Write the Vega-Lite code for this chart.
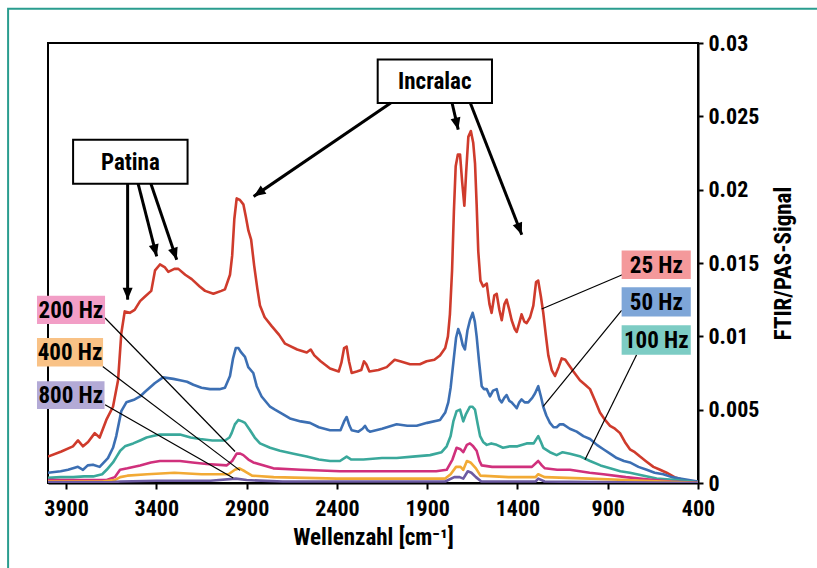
{
  "$schema": "https://vega.github.io/schema/vega-lite/v6.json",
  "width": 650,
  "height": 440,
  "autosize": "none",
  "padding": {"left": 48, "top": 43, "right": 119, "bottom": 85},
  "background": "white",
  "config": {
    "font": "Roboto Condensed, Liberation Sans Narrow, Arial Narrow, Roboto, sans-serif",
    "view": {"stroke": "black", "strokeWidth": 2},
    "axis": {
      "grid": false,
      "domainColor": "black",
      "domainWidth": 2,
      "tickColor": "black",
      "tickWidth": 2,
      "labelColor": "black",
      "labelFontSize": 22,
      "labelFontWeight": "bold",
      "labelFlush": false,
      "labelOverlap": false,
      "titleColor": "black",
      "titleFontSize": 23,
      "titleFontWeight": "bold"
    }
  },
  "datasets": {
    "spectra": [
      {"s":"25 Hz","x":4000,"y":0.0018},{"s":"25 Hz","x":3926,"y":0.00215},{"s":"25 Hz","x":3862,"y":0.0025},{"s":"25 Hz","x":3834,"y":0.0029},{"s":"25 Hz","x":3806,"y":0.0025},{"s":"25 Hz","x":3778,"y":0.0028},{"s":"25 Hz","x":3741,"y":0.0034},{"s":"25 Hz","x":3714,"y":0.0031},{"s":"25 Hz","x":3677,"y":0.0043},{"s":"25 Hz","x":3640,"y":0.0052},{"s":"25 Hz","x":3612,"y":0.007},{"s":"25 Hz","x":3594,"y":0.0102},{"s":"25 Hz","x":3575,"y":0.0117},{"s":"25 Hz","x":3547,"y":0.0116},{"s":"25 Hz","x":3520,"y":0.0118},{"s":"25 Hz","x":3490,"y":0.0124},{"s":"25 Hz","x":3464,"y":0.0127},{"s":"25 Hz","x":3428,"y":0.0131},{"s":"25 Hz","x":3407,"y":0.0145},{"s":"25 Hz","x":3380,"y":0.0149},{"s":"25 Hz","x":3352,"y":0.0147},{"s":"25 Hz","x":3334,"y":0.0144},{"s":"25 Hz","x":3300,"y":0.0146},{"s":"25 Hz","x":3278,"y":0.0146},{"s":"25 Hz","x":3240,"y":0.0142},{"s":"25 Hz","x":3204,"y":0.0139},{"s":"25 Hz","x":3160,"y":0.0134},{"s":"25 Hz","x":3130,"y":0.0131},{"s":"25 Hz","x":3084,"y":0.0129},{"s":"25 Hz","x":3040,"y":0.0131},{"s":"25 Hz","x":3020,"y":0.0132},{"s":"25 Hz","x":2992,"y":0.0142},{"s":"25 Hz","x":2980,"y":0.0155},{"s":"25 Hz","x":2968,"y":0.018},{"s":"25 Hz","x":2955,"y":0.0194},{"s":"25 Hz","x":2937,"y":0.0193},{"s":"25 Hz","x":2918,"y":0.019},{"s":"25 Hz","x":2905,"y":0.0182},{"s":"25 Hz","x":2890,"y":0.0172},{"s":"25 Hz","x":2875,"y":0.0166},{"s":"25 Hz","x":2858,"y":0.0148},{"s":"25 Hz","x":2840,"y":0.0132},{"s":"25 Hz","x":2826,"y":0.0121},{"s":"25 Hz","x":2800,"y":0.0113},{"s":"25 Hz","x":2761,"y":0.0107},{"s":"25 Hz","x":2720,"y":0.0101},{"s":"25 Hz","x":2687,"y":0.0095},{"s":"25 Hz","x":2620,"y":0.0091},{"s":"25 Hz","x":2567,"y":0.0089},{"s":"25 Hz","x":2545,"y":0.0091},{"s":"25 Hz","x":2525,"y":0.0087},{"s":"25 Hz","x":2490,"y":0.0083},{"s":"25 Hz","x":2438,"y":0.0078},{"s":"25 Hz","x":2390,"y":0.0076},{"s":"25 Hz","x":2375,"y":0.0082},{"s":"25 Hz","x":2360,"y":0.0092},{"s":"25 Hz","x":2346,"y":0.0093},{"s":"25 Hz","x":2333,"y":0.0083},{"s":"25 Hz","x":2318,"y":0.0075},{"s":"25 Hz","x":2290,"y":0.0076},{"s":"25 Hz","x":2265,"y":0.0077},{"s":"25 Hz","x":2250,"y":0.0083},{"s":"25 Hz","x":2237,"y":0.0081},{"s":"25 Hz","x":2220,"y":0.0076},{"s":"25 Hz","x":2170,"y":0.0077},{"s":"25 Hz","x":2124,"y":0.0079},{"s":"25 Hz","x":2080,"y":0.0084},{"s":"25 Hz","x":2050,"y":0.0083},{"s":"25 Hz","x":1995,"y":0.0081},{"s":"25 Hz","x":1940,"y":0.0081},{"s":"25 Hz","x":1903,"y":0.0083},{"s":"25 Hz","x":1860,"y":0.0084},{"s":"25 Hz","x":1829,"y":0.0087},{"s":"25 Hz","x":1800,"y":0.0092},{"s":"25 Hz","x":1785,"y":0.01},{"s":"25 Hz","x":1774,"y":0.0115},{"s":"25 Hz","x":1762,"y":0.0145},{"s":"25 Hz","x":1752,"y":0.0185},{"s":"25 Hz","x":1742,"y":0.0216},{"s":"25 Hz","x":1730,"y":0.0224},{"s":"25 Hz","x":1718,"y":0.0224},{"s":"25 Hz","x":1706,"y":0.0205},{"s":"25 Hz","x":1694,"y":0.0189},{"s":"25 Hz","x":1684,"y":0.0212},{"s":"25 Hz","x":1672,"y":0.0236},{"s":"25 Hz","x":1658,"y":0.024},{"s":"25 Hz","x":1645,"y":0.0232},{"s":"25 Hz","x":1635,"y":0.0218},{"s":"25 Hz","x":1626,"y":0.019},{"s":"25 Hz","x":1617,"y":0.0158},{"s":"25 Hz","x":1605,"y":0.0138},{"s":"25 Hz","x":1590,"y":0.0134},{"s":"25 Hz","x":1570,"y":0.0136},{"s":"25 Hz","x":1555,"y":0.0122},{"s":"25 Hz","x":1543,"y":0.0116},{"s":"25 Hz","x":1528,"y":0.0128},{"s":"25 Hz","x":1515,"y":0.0129},{"s":"25 Hz","x":1500,"y":0.0118},{"s":"25 Hz","x":1487,"y":0.0111},{"s":"25 Hz","x":1472,"y":0.0122},{"s":"25 Hz","x":1460,"y":0.0125},{"s":"25 Hz","x":1445,"y":0.0118},{"s":"25 Hz","x":1432,"y":0.0111},{"s":"25 Hz","x":1415,"y":0.0105},{"s":"25 Hz","x":1404,"y":0.0103},{"s":"25 Hz","x":1390,"y":0.0109},{"s":"25 Hz","x":1377,"y":0.0115},{"s":"25 Hz","x":1362,"y":0.011},{"s":"25 Hz","x":1349,"y":0.0109},{"s":"25 Hz","x":1330,"y":0.0113},{"s":"25 Hz","x":1312,"y":0.0121},{"s":"25 Hz","x":1297,"y":0.0137},{"s":"25 Hz","x":1285,"y":0.0138},{"s":"25 Hz","x":1270,"y":0.0127},{"s":"25 Hz","x":1257,"y":0.0116},{"s":"25 Hz","x":1243,"y":0.0101},{"s":"25 Hz","x":1229,"y":0.0087},{"s":"25 Hz","x":1210,"y":0.0077},{"s":"25 Hz","x":1192,"y":0.0073},{"s":"25 Hz","x":1172,"y":0.0079},{"s":"25 Hz","x":1155,"y":0.0085},{"s":"25 Hz","x":1135,"y":0.0084},{"s":"25 Hz","x":1118,"y":0.0081},{"s":"25 Hz","x":1090,"y":0.0076},{"s":"25 Hz","x":1054,"y":0.007},{"s":"25 Hz","x":1025,"y":0.0067},{"s":"25 Hz","x":998,"y":0.0064},{"s":"25 Hz","x":970,"y":0.0056},{"s":"25 Hz","x":943,"y":0.0048},{"s":"25 Hz","x":915,"y":0.0043},{"s":"25 Hz","x":887,"y":0.0039},{"s":"25 Hz","x":860,"y":0.0037},{"s":"25 Hz","x":832,"y":0.0034},{"s":"25 Hz","x":805,"y":0.0028},{"s":"25 Hz","x":777,"y":0.0023},{"s":"25 Hz","x":750,"y":0.0021},{"s":"25 Hz","x":721,"y":0.0018},{"s":"25 Hz","x":690,"y":0.0015},{"s":"25 Hz","x":647,"y":0.0011},{"s":"25 Hz","x":610,"y":0.0009},{"s":"25 Hz","x":574,"y":0.0007},{"s":"25 Hz","x":530,"y":0.0004},{"s":"25 Hz","x":481,"y":0.0002},{"s":"25 Hz","x":440,"y":0.0001},{"s":"25 Hz","x":400,"y":0.0001},

      {"s":"50 Hz","x":4000,"y":0.0007},{"s":"50 Hz","x":3930,"y":0.0008},{"s":"50 Hz","x":3889,"y":0.0009},{"s":"50 Hz","x":3834,"y":0.0011},{"s":"50 Hz","x":3806,"y":0.0009},{"s":"50 Hz","x":3780,"y":0.0012},{"s":"50 Hz","x":3751,"y":0.00125},{"s":"50 Hz","x":3714,"y":0.0011},{"s":"50 Hz","x":3668,"y":0.0017},{"s":"50 Hz","x":3640,"y":0.0024},{"s":"50 Hz","x":3622,"y":0.0032},{"s":"50 Hz","x":3594,"y":0.0049},{"s":"50 Hz","x":3566,"y":0.0055},{"s":"50 Hz","x":3520,"y":0.0057},{"s":"50 Hz","x":3490,"y":0.0059},{"s":"50 Hz","x":3464,"y":0.0062},{"s":"50 Hz","x":3409,"y":0.0068},{"s":"50 Hz","x":3363,"y":0.0072},{"s":"50 Hz","x":3306,"y":0.0071},{"s":"50 Hz","x":3269,"y":0.007},{"s":"50 Hz","x":3230,"y":0.0069},{"s":"50 Hz","x":3195,"y":0.0067},{"s":"50 Hz","x":3150,"y":0.0065},{"s":"50 Hz","x":3103,"y":0.0064},{"s":"50 Hz","x":3050,"y":0.0064},{"s":"50 Hz","x":3020,"y":0.0065},{"s":"50 Hz","x":2992,"y":0.0073},{"s":"50 Hz","x":2975,"y":0.0085},{"s":"50 Hz","x":2960,"y":0.0092},{"s":"50 Hz","x":2945,"y":0.0092},{"s":"50 Hz","x":2930,"y":0.0089},{"s":"50 Hz","x":2909,"y":0.0086},{"s":"50 Hz","x":2891,"y":0.0079},{"s":"50 Hz","x":2863,"y":0.0075},{"s":"50 Hz","x":2844,"y":0.0066},{"s":"50 Hz","x":2817,"y":0.0059},{"s":"50 Hz","x":2770,"y":0.0052},{"s":"50 Hz","x":2743,"y":0.005},{"s":"50 Hz","x":2700,"y":0.0047},{"s":"50 Hz","x":2660,"y":0.0044},{"s":"50 Hz","x":2600,"y":0.0042},{"s":"50 Hz","x":2549,"y":0.0041},{"s":"50 Hz","x":2500,"y":0.0038},{"s":"50 Hz","x":2438,"y":0.0036},{"s":"50 Hz","x":2380,"y":0.0036},{"s":"50 Hz","x":2360,"y":0.0042},{"s":"50 Hz","x":2346,"y":0.0045},{"s":"50 Hz","x":2330,"y":0.0039},{"s":"50 Hz","x":2318,"y":0.0036},{"s":"50 Hz","x":2281,"y":0.0035},{"s":"50 Hz","x":2258,"y":0.0037},{"s":"50 Hz","x":2244,"y":0.0039},{"s":"50 Hz","x":2230,"y":0.0036},{"s":"50 Hz","x":2217,"y":0.0035},{"s":"50 Hz","x":2150,"y":0.0037},{"s":"50 Hz","x":2069,"y":0.004},{"s":"50 Hz","x":2010,"y":0.0039},{"s":"50 Hz","x":1958,"y":0.0039},{"s":"50 Hz","x":1900,"y":0.0041},{"s":"50 Hz","x":1829,"y":0.0043},{"s":"50 Hz","x":1800,"y":0.0048},{"s":"50 Hz","x":1783,"y":0.0055},{"s":"50 Hz","x":1770,"y":0.0065},{"s":"50 Hz","x":1755,"y":0.0082},{"s":"50 Hz","x":1740,"y":0.0099},{"s":"50 Hz","x":1728,"y":0.0105},{"s":"50 Hz","x":1716,"y":0.0101},{"s":"50 Hz","x":1703,"y":0.0094},{"s":"50 Hz","x":1691,"y":0.0091},{"s":"50 Hz","x":1677,"y":0.0104},{"s":"50 Hz","x":1663,"y":0.0111},{"s":"50 Hz","x":1648,"y":0.0116},{"s":"50 Hz","x":1636,"y":0.011},{"s":"50 Hz","x":1626,"y":0.01},{"s":"50 Hz","x":1612,"y":0.0082},{"s":"50 Hz","x":1598,"y":0.0066},{"s":"50 Hz","x":1585,"y":0.0064},{"s":"50 Hz","x":1570,"y":0.0064},{"s":"50 Hz","x":1552,"y":0.0059},{"s":"50 Hz","x":1535,"y":0.0063},{"s":"50 Hz","x":1515,"y":0.0064},{"s":"50 Hz","x":1500,"y":0.0057},{"s":"50 Hz","x":1487,"y":0.0055},{"s":"50 Hz","x":1473,"y":0.0058},{"s":"50 Hz","x":1460,"y":0.006},{"s":"50 Hz","x":1445,"y":0.0056},{"s":"50 Hz","x":1432,"y":0.0055},{"s":"50 Hz","x":1418,"y":0.0053},{"s":"50 Hz","x":1404,"y":0.0051},{"s":"50 Hz","x":1390,"y":0.0055},{"s":"50 Hz","x":1377,"y":0.0057},{"s":"50 Hz","x":1360,"y":0.0055},{"s":"50 Hz","x":1340,"y":0.0055},{"s":"50 Hz","x":1318,"y":0.0058},{"s":"50 Hz","x":1303,"y":0.0061},{"s":"50 Hz","x":1285,"y":0.0066},{"s":"50 Hz","x":1270,"y":0.0059},{"s":"50 Hz","x":1257,"y":0.0052},{"s":"50 Hz","x":1240,"y":0.0046},{"s":"50 Hz","x":1220,"y":0.0041},{"s":"50 Hz","x":1200,"y":0.0038},{"s":"50 Hz","x":1183,"y":0.0038},{"s":"50 Hz","x":1165,"y":0.004},{"s":"50 Hz","x":1146,"y":0.004},{"s":"50 Hz","x":1110,"y":0.0037},{"s":"50 Hz","x":1072,"y":0.0035},{"s":"50 Hz","x":1035,"y":0.0032},{"s":"50 Hz","x":998,"y":0.003},{"s":"50 Hz","x":960,"y":0.0026},{"s":"50 Hz","x":924,"y":0.0023},{"s":"50 Hz","x":887,"y":0.002},{"s":"50 Hz","x":850,"y":0.0017},{"s":"50 Hz","x":810,"y":0.0015},{"s":"50 Hz","x":777,"y":0.0014},{"s":"50 Hz","x":730,"y":0.0011},{"s":"50 Hz","x":684,"y":0.0009},{"s":"50 Hz","x":640,"y":0.0007},{"s":"50 Hz","x":592,"y":0.0006},{"s":"50 Hz","x":545,"y":0.0004},{"s":"50 Hz","x":500,"y":0.0003},{"s":"50 Hz","x":450,"y":0.0002},{"s":"50 Hz","x":400,"y":0.0001},

      {"s":"100 Hz","x":4000,"y":0.00035},{"s":"100 Hz","x":3930,"y":0.0004},{"s":"100 Hz","x":3860,"y":0.0004},{"s":"100 Hz","x":3800,"y":0.00045},{"s":"100 Hz","x":3750,"y":0.00045},{"s":"100 Hz","x":3700,"y":0.0006},{"s":"100 Hz","x":3675,"y":0.0009},{"s":"100 Hz","x":3640,"y":0.0014},{"s":"100 Hz","x":3620,"y":0.0018},{"s":"100 Hz","x":3600,"y":0.0022},{"s":"100 Hz","x":3574,"y":0.0025},{"s":"100 Hz","x":3528,"y":0.0027},{"s":"100 Hz","x":3490,"y":0.0029},{"s":"100 Hz","x":3454,"y":0.0031},{"s":"100 Hz","x":3420,"y":0.0032},{"s":"100 Hz","x":3380,"y":0.0033},{"s":"100 Hz","x":3320,"y":0.0033},{"s":"100 Hz","x":3269,"y":0.0033},{"s":"100 Hz","x":3210,"y":0.0031},{"s":"100 Hz","x":3158,"y":0.003},{"s":"100 Hz","x":3090,"y":0.0029},{"s":"100 Hz","x":3020,"y":0.0029},{"s":"100 Hz","x":2995,"y":0.0031},{"s":"100 Hz","x":2983,"y":0.0034},{"s":"100 Hz","x":2965,"y":0.004},{"s":"100 Hz","x":2946,"y":0.0043},{"s":"100 Hz","x":2925,"y":0.0042},{"s":"100 Hz","x":2909,"y":0.0041},{"s":"100 Hz","x":2881,"y":0.0036},{"s":"100 Hz","x":2855,"y":0.0031},{"s":"100 Hz","x":2826,"y":0.0027},{"s":"100 Hz","x":2770,"y":0.0024},{"s":"100 Hz","x":2715,"y":0.0022},{"s":"100 Hz","x":2640,"y":0.002},{"s":"100 Hz","x":2567,"y":0.0018},{"s":"100 Hz","x":2500,"y":0.0016},{"s":"100 Hz","x":2438,"y":0.0015},{"s":"100 Hz","x":2383,"y":0.0015},{"s":"100 Hz","x":2346,"y":0.0018},{"s":"100 Hz","x":2320,"y":0.0016},{"s":"100 Hz","x":2253,"y":0.0016},{"s":"100 Hz","x":2150,"y":0.0017},{"s":"100 Hz","x":2069,"y":0.0017},{"s":"100 Hz","x":1980,"y":0.0018},{"s":"100 Hz","x":1884,"y":0.0019},{"s":"100 Hz","x":1820,"y":0.0021},{"s":"100 Hz","x":1792,"y":0.0025},{"s":"100 Hz","x":1770,"y":0.0032},{"s":"100 Hz","x":1755,"y":0.0042},{"s":"100 Hz","x":1737,"y":0.0049},{"s":"100 Hz","x":1718,"y":0.005},{"s":"100 Hz","x":1700,"y":0.0042},{"s":"100 Hz","x":1685,"y":0.0047},{"s":"100 Hz","x":1663,"y":0.0052},{"s":"100 Hz","x":1650,"y":0.0052},{"s":"100 Hz","x":1635,"y":0.005},{"s":"100 Hz","x":1620,"y":0.004},{"s":"100 Hz","x":1607,"y":0.0032},{"s":"100 Hz","x":1590,"y":0.0028},{"s":"100 Hz","x":1570,"y":0.0026},{"s":"100 Hz","x":1545,"y":0.0027},{"s":"100 Hz","x":1515,"y":0.0026},{"s":"100 Hz","x":1480,"y":0.0024},{"s":"100 Hz","x":1441,"y":0.0025},{"s":"100 Hz","x":1400,"y":0.0025},{"s":"100 Hz","x":1349,"y":0.0027},{"s":"100 Hz","x":1310,"y":0.0027},{"s":"100 Hz","x":1285,"y":0.0032},{"s":"100 Hz","x":1270,"y":0.0028},{"s":"100 Hz","x":1257,"y":0.0024},{"s":"100 Hz","x":1220,"y":0.0021},{"s":"100 Hz","x":1183,"y":0.0019},{"s":"100 Hz","x":1150,"y":0.0021},{"s":"100 Hz","x":1109,"y":0.002},{"s":"100 Hz","x":1050,"y":0.0018},{"s":"100 Hz","x":998,"y":0.0015},{"s":"100 Hz","x":940,"y":0.0012},{"s":"100 Hz","x":887,"y":0.001},{"s":"100 Hz","x":830,"y":0.0008},{"s":"100 Hz","x":777,"y":0.0007},{"s":"100 Hz","x":700,"y":0.0005},{"s":"100 Hz","x":629,"y":0.0003},{"s":"100 Hz","x":520,"y":0.0002},{"s":"100 Hz","x":400,"y":0.00005},

      {"s":"200 Hz","x":4000,"y":0.0002},{"s":"200 Hz","x":3800,"y":0.0002},{"s":"200 Hz","x":3675,"y":0.0002},{"s":"200 Hz","x":3630,"y":0.0004},{"s":"200 Hz","x":3601,"y":0.0009},{"s":"200 Hz","x":3560,"y":0.001},{"s":"200 Hz","x":3490,"y":0.0012},{"s":"200 Hz","x":3430,"y":0.0014},{"s":"200 Hz","x":3380,"y":0.0015},{"s":"200 Hz","x":3269,"y":0.0015},{"s":"200 Hz","x":3200,"y":0.0014},{"s":"200 Hz","x":3121,"y":0.0013},{"s":"200 Hz","x":3011,"y":0.0012},{"s":"200 Hz","x":2980,"y":0.0015},{"s":"200 Hz","x":2955,"y":0.002},{"s":"200 Hz","x":2935,"y":0.002},{"s":"200 Hz","x":2918,"y":0.0019},{"s":"200 Hz","x":2890,"y":0.0016},{"s":"200 Hz","x":2863,"y":0.0014},{"s":"200 Hz","x":2752,"y":0.001},{"s":"200 Hz","x":2600,"y":0.0009},{"s":"200 Hz","x":2383,"y":0.0008},{"s":"200 Hz","x":2069,"y":0.0008},{"s":"200 Hz","x":1850,"y":0.0008},{"s":"200 Hz","x":1792,"y":0.0009},{"s":"200 Hz","x":1760,"y":0.0016},{"s":"200 Hz","x":1737,"y":0.0024},{"s":"200 Hz","x":1715,"y":0.0023},{"s":"200 Hz","x":1700,"y":0.0021},{"s":"200 Hz","x":1680,"y":0.0026},{"s":"200 Hz","x":1663,"y":0.0027},{"s":"200 Hz","x":1645,"y":0.0025},{"s":"200 Hz","x":1626,"y":0.0022},{"s":"200 Hz","x":1610,"y":0.0015},{"s":"200 Hz","x":1598,"y":0.0012},{"s":"200 Hz","x":1540,"y":0.0011},{"s":"200 Hz","x":1478,"y":0.0011},{"s":"200 Hz","x":1400,"y":0.0011},{"s":"200 Hz","x":1320,"y":0.0011},{"s":"200 Hz","x":1285,"y":0.0015},{"s":"200 Hz","x":1265,"y":0.0012},{"s":"200 Hz","x":1248,"y":0.001},{"s":"200 Hz","x":1180,"y":0.0009},{"s":"200 Hz","x":1109,"y":0.0009},{"s":"200 Hz","x":1000,"y":0.0007},{"s":"200 Hz","x":924,"y":0.0006},{"s":"200 Hz","x":800,"y":0.0004},{"s":"200 Hz","x":684,"y":0.00025},{"s":"200 Hz","x":550,"y":0.0001},{"s":"200 Hz","x":400,"y":0.00002},

      {"s":"400 Hz","x":4000,"y":0.0001},{"s":"400 Hz","x":3700,"y":0.0001},{"s":"400 Hz","x":3630,"y":0.0002},{"s":"400 Hz","x":3600,"y":0.0004},{"s":"400 Hz","x":3560,"y":0.0005},{"s":"400 Hz","x":3450,"y":0.0006},{"s":"400 Hz","x":3300,"y":0.0007},{"s":"400 Hz","x":3150,"y":0.0006},{"s":"400 Hz","x":3000,"y":0.0006},{"s":"400 Hz","x":2965,"y":0.0009},{"s":"400 Hz","x":2940,"y":0.001},{"s":"400 Hz","x":2910,"y":0.0008},{"s":"400 Hz","x":2870,"y":0.0005},{"s":"400 Hz","x":2750,"y":0.0004},{"s":"400 Hz","x":2400,"y":0.0003},{"s":"400 Hz","x":1800,"y":0.0003},{"s":"400 Hz","x":1770,"y":0.0006},{"s":"400 Hz","x":1740,"y":0.0011},{"s":"400 Hz","x":1715,"y":0.0011},{"s":"400 Hz","x":1700,"y":0.0009},{"s":"400 Hz","x":1680,"y":0.0015},{"s":"400 Hz","x":1660,"y":0.0014},{"s":"400 Hz","x":1630,"y":0.001},{"s":"400 Hz","x":1605,"y":0.0005},{"s":"400 Hz","x":1450,"y":0.0004},{"s":"400 Hz","x":1300,"y":0.0004},{"s":"400 Hz","x":1285,"y":0.0006},{"s":"400 Hz","x":1250,"y":0.0004},{"s":"400 Hz","x":1000,"y":0.0003},{"s":"400 Hz","x":800,"y":0.0002},{"s":"400 Hz","x":600,"y":0.0001},{"s":"400 Hz","x":400,"y":0},

      {"s":"800 Hz","x":4000,"y":0.00005},{"s":"800 Hz","x":3650,"y":0.00005},{"s":"800 Hz","x":3600,"y":0.0001},{"s":"800 Hz","x":3400,"y":0.00015},{"s":"800 Hz","x":3100,"y":0.00015},{"s":"800 Hz","x":2960,"y":0.0003},{"s":"800 Hz","x":2900,"y":0.0002},{"s":"800 Hz","x":2700,"y":0.0001},{"s":"800 Hz","x":1800,"y":0.0001},{"s":"800 Hz","x":1750,"y":0.0004},{"s":"800 Hz","x":1720,"y":0.0004},{"s":"800 Hz","x":1700,"y":0.0003},{"s":"800 Hz","x":1675,"y":0.0008},{"s":"800 Hz","x":1655,"y":0.0007},{"s":"800 Hz","x":1630,"y":0.0004},{"s":"800 Hz","x":1600,"y":0.0001},{"s":"800 Hz","x":1300,"y":0.0001},{"s":"800 Hz","x":1285,"y":0.0003},{"s":"800 Hz","x":1250,"y":0.0001},{"s":"800 Hz","x":400,"y":0}
    ],
    "frame": [{"x1": 4221, "x2": -2000, "y1": 0.03234, "y2": -0.02}],
    "boxes": [
      {"t":"Patina","k":"note","x1":3861,"x2":3227,"y1":0.02341,"y2":0.02041,"cx":3544,"cy":0.0219},
      {"t":"Incralac","k":"note","x1":2174,"x2":1541,"y1":0.02887,"y2":0.02591,"cx":1858,"cy":0.02738},
      {"t":"25 Hz","k":"freq","x1":823,"x2":440,"y1":0.01586,"y2":0.01391,"cx":631,"cy":0.01488},
      {"t":"50 Hz","k":"freq","x1":823,"x2":440,"y1":0.01334,"y2":0.01136,"cx":631,"cy":0.01235},
      {"t":"100 Hz","k":"freq","x1":823,"x2":440,"y1":0.01075,"y2":0.00875,"cx":631,"cy":0.00975},
      {"t":"200 Hz","k":"freq","x1":4061,"x2":3684,"y1":0.01277,"y2":0.01084,"cx":3873,"cy":0.0118},
      {"t":"400 Hz","k":"freq","x1":4061,"x2":3695,"y1":0.00989,"y2":0.00795,"cx":3878,"cy":0.00892},
      {"t":"800 Hz","k":"freq","x1":4061,"x2":3687,"y1":0.00693,"y2":0.00505,"cx":3874,"cy":0.00599}
    ],
    "leaders": [
      {"t":"25 Hz","x1":819,"y1":0.0142,"x2":1266,"y2":0.01186},
      {"t":"50 Hz","x1":823,"y1":0.01177,"x2":1257,"y2":0.00522},
      {"t":"100 Hz","x1":740,"y1":0.00875,"x2":1026,"y2":0.00159},
      {"t":"200 Hz","x1":3684,"y1":0.01125,"x2":2964,"y2":0.00215},
      {"t":"400 Hz","x1":3697,"y1":0.00795,"x2":2937,"y2":0.00086},
      {"t":"800 Hz","x1":3684,"y1":0.00534,"x2":2974,"y2":0.00034}
    ],
    "arrows": [
      {"a":1,"x1":3559,"y1":0.02041,"x2":3559,"y2":0.0125},
      {"a":2,"x1":3501,"y1":0.02041,"x2":3398,"y2":0.01545},
      {"a":3,"x1":3430,"y1":0.02041,"x2":3287,"y2":0.01522},
      {"a":4,"x1":2102,"y1":0.02591,"x2":2861,"y2":0.01954},
      {"a":5,"x1":1762,"y1":0.02591,"x2":1728,"y2":0.02409},
      {"a":6,"x1":1661,"y1":0.02591,"x2":1376,"y2":0.01693}
    ]
  },
  "layer": [
    {
      "data": {"name": "spectra"},
      "mark": {"type": "line", "strokeWidth": 2.6, "strokeJoin": "round", "clip": true},
      "encoding": {
        "x": {
          "field": "x", "type": "quantitative",
          "scale": {"domain": [400, 4000], "reverse": true, "nice": false, "zero": false},
          "axis": {
            "orient": "bottom",
            "values": [3900, 3400, 2900, 2400, 1900, 1400, 900, 400],
            "format": "d",
            "tickSize": 6,
            "labelPadding": 9,
            "title": "Wellenzahl  [cm⁻¹]",
            "titlePadding": 7
          }
        },
        "y": {
          "field": "y", "type": "quantitative",
          "scale": {"domain": [0, 0.03], "nice": false, "zero": false},
          "axis": {
            "orient": "right",
            "values": [0, 0.005, 0.01, 0.015, 0.02, 0.025, 0.03],
            "format": "~g",
            "tickSize": 5,
            "labelPadding": 5,
            "title": "FTIR/PAS-Signal",
            "titleAngle": 270,
            "titleBaseline": "top",
            "titlePadding": 14
          }
        },
        "color": {
          "field": "s", "type": "nominal", "legend": null,
          "scale": {
            "domain": ["25 Hz", "50 Hz", "100 Hz", "200 Hz", "400 Hz", "800 Hz"],
            "range": ["#cf3b2c", "#3c6fb3", "#3aa89b", "#d0307c", "#f2aa35", "#6d5ba3"]
          }
        },
        "order": {"field": "x", "type": "quantitative"}
      }
    },
    {
      "data": {"name": "frame"},
      "mark": {"type": "rect", "fill": null, "stroke": "#2a9d8f", "strokeWidth": 2},
      "encoding": {
        "x": {"field": "x1", "type": "quantitative"},
        "x2": {"field": "x2"},
        "y": {"field": "y1", "type": "quantitative"},
        "y2": {"field": "y2"}
      }
    },
    {
      "data": {"name": "leaders"},
      "mark": {"type": "rule", "color": "black", "strokeWidth": 1.2},
      "encoding": {
        "x": {"field": "x1", "type": "quantitative"},
        "x2": {"field": "x2"},
        "y": {"field": "y1", "type": "quantitative"},
        "y2": {"field": "y2"}
      }
    },
    {
      "data": {"name": "boxes"},
      "transform": [{"filter": "datum.k === 'freq'"}],
      "mark": {"type": "rect", "strokeWidth": 0},
      "encoding": {
        "x": {"field": "x1", "type": "quantitative"},
        "x2": {"field": "x2"},
        "y": {"field": "y1", "type": "quantitative"},
        "y2": {"field": "y2"},
        "fill": {
          "field": "t", "type": "nominal", "legend": null,
          "scale": {
            "domain": ["25 Hz", "50 Hz", "100 Hz", "200 Hz", "400 Hz", "800 Hz"],
            "range": ["#f4999b", "#7ea6d8", "#7dccc4", "#f29ec6", "#f9c286", "#b3aad6"]
          }
        }
      }
    },
    {
      "data": {"name": "boxes"},
      "transform": [{"filter": "datum.k === 'note'"}],
      "mark": {"type": "rect", "fill": "white", "stroke": "black", "strokeWidth": 2},
      "encoding": {
        "x": {"field": "x1", "type": "quantitative"},
        "x2": {"field": "x2"},
        "y": {"field": "y1", "type": "quantitative"},
        "y2": {"field": "y2"}
      }
    },
    {
      "data": {"name": "boxes"},
      "mark": {"type": "text", "color": "black", "fontSize": 23, "fontWeight": "bold", "align": "center", "baseline": "middle", "dy": 1},
      "encoding": {
        "x": {"field": "cx", "type": "quantitative"},
        "y": {"field": "cy", "type": "quantitative"},
        "text": {"field": "t"}
      }
    },
    {
      "data": {"name": "arrows"},
      "mark": {"type": "rule", "color": "black", "strokeWidth": 3},
      "encoding": {
        "x": {"field": "x1", "type": "quantitative"},
        "x2": {"field": "x2"},
        "y": {"field": "y1", "type": "quantitative"},
        "y2": {"field": "y2"}
      }
    },
    {"data": {"name": "arrows"}, "transform": [{"filter": "datum.a === 1"}],
     "mark": {"type": "point", "shape": "M0,0L0.5,1.2L-0.5,1.2Z", "size": 400, "filled": true, "color": "black", "opacity": 1, "angle": 180},
     "encoding": {"x": {"field": "x2", "type": "quantitative"}, "y": {"field": "y2", "type": "quantitative"}}},
    {"data": {"name": "arrows"}, "transform": [{"filter": "datum.a === 2"}],
     "mark": {"type": "point", "shape": "M0,0L0.5,1.2L-0.5,1.2Z", "size": 400, "filled": true, "color": "black", "opacity": 1, "angle": 165.6},
     "encoding": {"x": {"field": "x2", "type": "quantitative"}, "y": {"field": "y2", "type": "quantitative"}}},
    {"data": {"name": "arrows"}, "transform": [{"filter": "datum.a === 3"}],
     "mark": {"type": "point", "shape": "M0,0L0.5,1.2L-0.5,1.2Z", "size": 400, "filled": true, "color": "black", "opacity": 1, "angle": 161.3},
     "encoding": {"x": {"field": "x2", "type": "quantitative"}, "y": {"field": "y2", "type": "quantitative"}}},
    {"data": {"name": "arrows"}, "transform": [{"filter": "datum.a === 4"}],
     "mark": {"type": "point", "shape": "M0,0L0.5,1.2L-0.5,1.2Z", "size": 400, "filled": true, "color": "black", "opacity": 1, "angle": 235.6},
     "encoding": {"x": {"field": "x2", "type": "quantitative"}, "y": {"field": "y2", "type": "quantitative"}}},
    {"data": {"name": "arrows"}, "transform": [{"filter": "datum.a === 5"}],
     "mark": {"type": "point", "shape": "M0,0L0.5,1.2L-0.5,1.2Z", "size": 400, "filled": true, "color": "black", "opacity": 1, "angle": 166.9},
     "encoding": {"x": {"field": "x2", "type": "quantitative"}, "y": {"field": "y2", "type": "quantitative"}}},
    {"data": {"name": "arrows"}, "transform": [{"filter": "datum.a === 6"}],
     "mark": {"type": "point", "shape": "M0,0L0.5,1.2L-0.5,1.2Z", "size": 400, "filled": true, "color": "black", "opacity": 1, "angle": 158.7},
     "encoding": {"x": {"field": "x2", "type": "quantitative"}, "y": {"field": "y2", "type": "quantitative"}}}
  ]
}
